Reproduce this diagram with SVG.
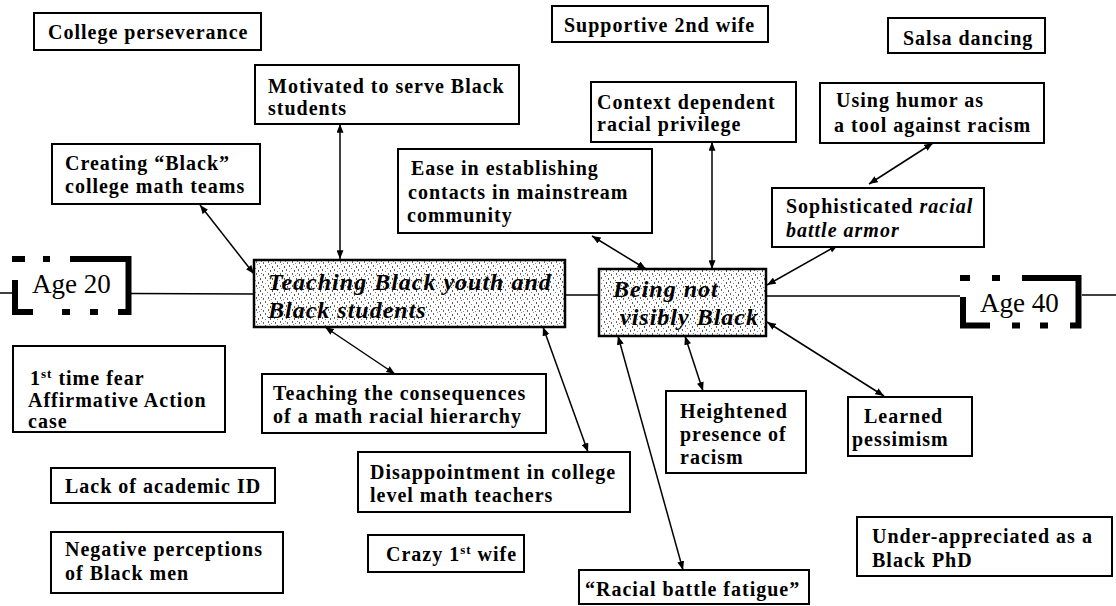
<svg xmlns="http://www.w3.org/2000/svg" width="1116" height="606" viewBox="0 0 1116 606">
  <style>
    .box { fill: #ffffff; stroke: #000; stroke-width: 2; }
    .core { fill: url(#stipple); stroke: #000; stroke-width: 2.5; }
    .t { font-family: "Liberation Serif", "Times New Roman", serif; font-weight: bold; font-size: 20px; letter-spacing: 1px; fill: #000; }
    .ti { font-family: "Liberation Serif", "Times New Roman", serif; font-weight: bold; font-style: italic; font-size: 24px; letter-spacing: 1px; fill: #000; }
    .age { font-family: "Liberation Serif", "Times New Roman", serif; font-size: 27px; fill: #000; }
    .bracket { fill: none; stroke: #000; stroke-width: 6; stroke-linejoin: miter; stroke-linecap: butt; }
    .timeline { stroke: #000; stroke-width: 1.5; fill: none; }
    .link { stroke: #000; stroke-width: 1.5; fill: none; marker-start: url(#head); marker-end: url(#head); }
  </style>
  <defs>
    <marker id="head" viewBox="0 0 10 8" refX="10" refY="4" markerWidth="9" markerHeight="7" markerUnits="userSpaceOnUse" orient="auto-start-reverse">
      <path d="M0,0 L10,4 L0,8 z" fill="#000"/>
    </marker>
    <!-- grainy stipple used inside the two central themes -->
    <pattern id="stipple" width="12" height="12" patternUnits="userSpaceOnUse">
      <rect width="12" height="12" fill="#fff"/>
      <rect x="1" y="1" width="1" height="2" fill="#666"/>
      <rect x="5" y="0" width="1" height="1" fill="#888"/>
      <rect x="8" y="2" width="1" height="2" fill="#555"/>
      <rect x="3" y="4" width="1" height="1" fill="#777"/>
      <rect x="10" y="5" width="1" height="2" fill="#666"/>
      <rect x="6" y="6" width="1" height="2" fill="#555"/>
      <rect x="1" y="7" width="1" height="1" fill="#888"/>
      <rect x="4" y="9" width="1" height="2" fill="#666"/>
      <rect x="9" y="9" width="1" height="1" fill="#777"/>
      <rect x="11" y="10" width="1" height="2" fill="#666"/>
      <rect x="7" y="11" width="1" height="1" fill="#888"/>
    </pattern>
  </defs>

  <!-- timeline axis -->
  <g id="timeline">
    <line class="timeline" x1="0" y1="293" x2="12" y2="293"/>
    <line class="timeline" x1="131" y1="293.5" x2="254" y2="294"/>
    <line class="timeline" x1="565" y1="295" x2="599" y2="295"/>
    <line class="timeline" x1="766" y1="296" x2="960" y2="296"/>
    <line class="timeline" x1="1082" y1="295" x2="1116" y2="295"/>
  </g>

  <!-- connectors -->
  <g id="connectors">
    <line class="link" x1="200" y1="205" x2="254" y2="274"/>
    <line class="link" x1="340" y1="124" x2="340" y2="259"/>
    <line class="link" x1="592" y1="236" x2="646" y2="269"/>
    <line class="link" x1="712" y1="142" x2="712" y2="269"/>
    <line class="link" x1="933" y1="143" x2="869" y2="184"/>
    <line class="link" x1="838" y1="245" x2="767" y2="285"/>
    <line class="link" x1="767" y1="322" x2="884" y2="396"/>
    <line class="link" x1="685" y1="336" x2="703" y2="391"/>
    <line class="link" x1="618" y1="336" x2="683" y2="570"/>
    <line class="link" x1="325" y1="327" x2="395" y2="374"/>
    <line class="link" x1="543" y1="327" x2="588" y2="452"/>
  </g>

  <g id="age20">
    <path class="bracket" d="M12,259 H25 M43,259 H50 M70,259 H128.5 V312 H118 M98,312 H90 M70,312 H62 M33,312 H15 V280"/>
    <text class="age" x="32" y="293">Age 20</text>
  </g>

  <g id="age40">
    <path class="bracket" d="M960,278 H970 M992,278 H1000 M1022,278 H1078.5 V325.5 H1070 M1048,325.5 H1040 M1020,325.5 H1012 M990,325.5 H963 V297"/>
    <text class="age" x="980" y="312">Age 40</text>
  </g>

  <g id="college-perseverance">
    <rect class="box" x="34" y="13" width="227" height="37"/>
    <text class="t" x="48" y="39">College perseverance</text>
  </g>

  <g id="supportive-wife">
    <rect class="box" x="552" y="6" width="216" height="36"/>
    <text class="t" x="564" y="32">Supportive 2nd wife</text>
  </g>

  <g id="salsa">
    <rect class="box" x="888" y="18" width="157" height="35"/>
    <text class="t" x="903" y="45">Salsa dancing</text>
  </g>

  <g id="motivated">
    <rect class="box" x="255" y="65" width="264" height="59"/>
    <text class="t" x="268" y="93">Motivated to serve Black</text>
    <text class="t" x="268" y="115">students</text>
  </g>

  <g id="context-privilege">
    <rect class="box" x="591" y="82" width="205" height="60"/>
    <text class="t" x="597" y="109">Context dependent</text>
    <text class="t" x="597" y="131">racial privilege</text>
  </g>

  <g id="humor">
    <rect class="box" x="820" y="83" width="224" height="60"/>
    <text class="t" x="836" y="107">Using humor as</text>
    <text class="t" x="834" y="132">a tool against racism</text>
  </g>

  <g id="math-teams">
    <rect class="box" x="52" y="144" width="208" height="60"/>
    <text class="t" x="65" y="170">Creating “Black”</text>
    <text class="t" x="65" y="193">college math teams</text>
  </g>

  <g id="mainstream-contacts">
    <rect class="box" x="398" y="149" width="254" height="84"/>
    <text class="t" x="411" y="175">Ease in establishing</text>
    <text class="t" x="408" y="199">contacts in mainstream</text>
    <text class="t" x="407" y="222">community</text>
  </g>

  <g id="battle-armor">
    <rect class="box" x="772" y="188" width="212" height="59"/>
    <text class="t" x="786" y="213">Sophisticated <tspan font-style="italic">racial</tspan></text>
    <text class="t" x="786" y="237" font-style="italic">battle armor</text>
  </g>

  <g id="teaching-black-youth">
    <rect class="core" x="254" y="260" width="311" height="67"/>
    <text class="ti" x="268" y="290">Teaching Black youth and</text>
    <text class="ti" x="268" y="318">Black students</text>
  </g>

  <g id="not-visibly-black">
    <rect class="core" x="599" y="269" width="167" height="67"/>
    <text class="ti" x="613" y="297">Being not</text>
    <text class="ti" x="620" y="325">visibly Black</text>
  </g>

  <g id="affirmative-action">
    <rect class="box" x="13" y="346" width="212" height="86"/>
    <text class="t" x="30" y="385">1<tspan dy="-7" font-size="13">st</tspan><tspan dy="7"> time fear</tspan></text>
    <text class="t" x="28" y="407">Affirmative Action</text>
    <text class="t" x="28" y="428">case</text>
  </g>

  <g id="math-hierarchy">
    <rect class="box" x="262" y="374" width="284" height="59"/>
    <text class="t" x="273" y="400">Teaching the consequences</text>
    <text class="t" x="273" y="423">of a math racial hierarchy</text>
  </g>

  <g id="heightened-racism">
    <rect class="box" x="666" y="391" width="140" height="82"/>
    <text class="t" x="680" y="418">Heightened</text>
    <text class="t" x="680" y="441">presence of</text>
    <text class="t" x="680" y="464">racism</text>
  </g>

  <g id="learned-pessimism">
    <rect class="box" x="848" y="397" width="124" height="59"/>
    <text class="t" x="864" y="423">Learned</text>
    <text class="t" x="852" y="446">pessimism</text>
  </g>

  <g id="disappointment">
    <rect class="box" x="358" y="452" width="272" height="60"/>
    <text class="t" x="370" y="479">Disappointment in college</text>
    <text class="t" x="370" y="502">level math teachers</text>
  </g>

  <g id="academic-id">
    <rect class="box" x="51" y="468" width="224" height="35"/>
    <text class="t" x="65" y="493">Lack of academic ID</text>
  </g>

  <g id="negative-perceptions">
    <rect class="box" x="51" y="532" width="232" height="61"/>
    <text class="t" x="65" y="556">Negative perceptions</text>
    <text class="t" x="65" y="580">of Black men</text>
  </g>

  <g id="first-wife">
    <rect class="box" x="368" y="535" width="156" height="37"/>
    <text class="t" x="386" y="561">Crazy 1<tspan dy="-7" font-size="13">st</tspan><tspan dy="7"> wife</tspan></text>
  </g>

  <g id="under-appreciated">
    <rect class="box" x="857" y="517" width="255" height="59"/>
    <text class="t" x="872" y="543">Under-appreciated as a</text>
    <text class="t" x="872" y="567">Black PhD</text>
  </g>

  <g id="battle-fatigue">
    <rect class="box" x="579" y="570" width="230" height="34"/>
    <text class="t" x="585" y="596">“Racial battle fatigue”</text>
  </g>
</svg>
